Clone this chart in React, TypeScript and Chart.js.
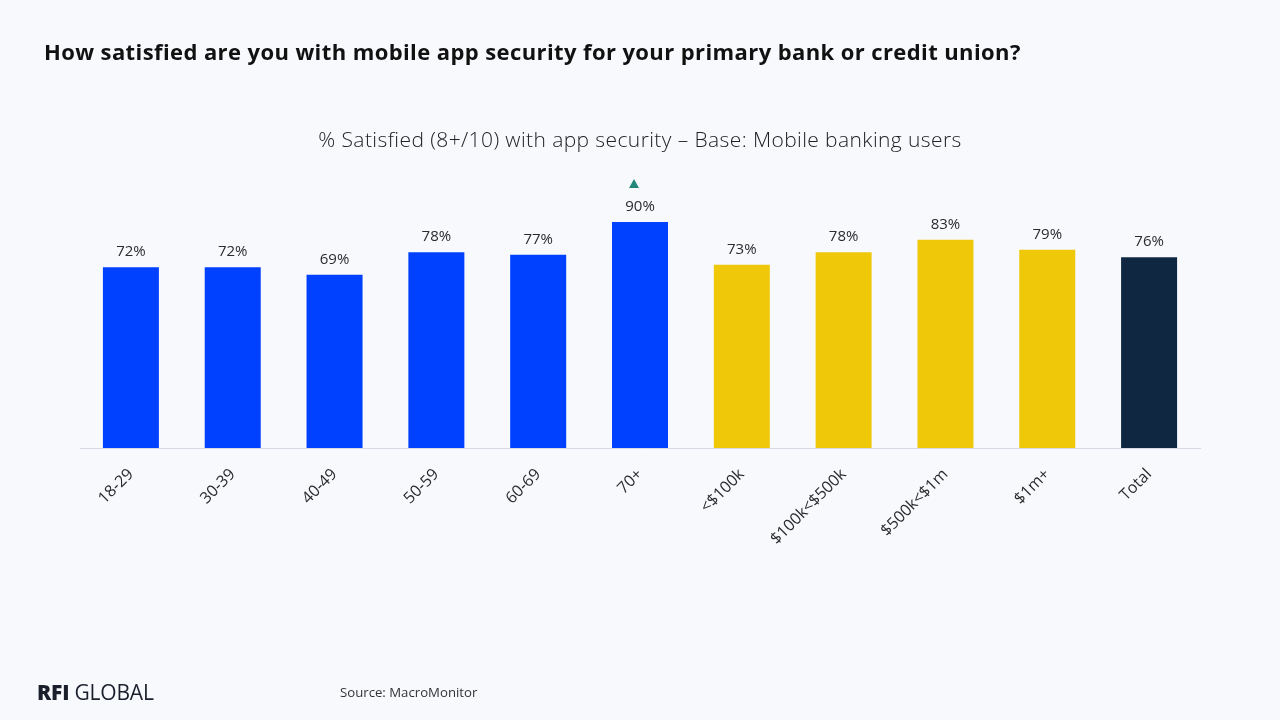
import React, { useEffect, useRef } from "react";
import { Chart, registerables } from "chart.js";

Chart.register(...registerables);

const categories = ["18-29", "30-39", "40-49", "50-59", "60-69", "70+", "<$100k", "$100k<$500k", "$500k<$1m", "$1m+", "Total"];
const values = [72, 72, 69, 78, 77, 90, 73, 78, 83, 79, 76];
const barColors = ["#0040FF", "#0040FF", "#0040FF", "#0040FF", "#0040FF", "#0040FF", "#EFC80A", "#EFC80A", "#EFC80A", "#EFC80A", "#0F2740"];
const significantUp = [false, false, false, false, false, true, false, false, false, false, false];

const titleText = "How satisfied are you with mobile app security for your primary bank or credit union?";
const subtitleText = "% Satisfied (8+/10) with app security \u2013 Base: Mobile banking users";
const sourceText = "Source: MacroMonitor";

const FONT = "'Open Sans', Lato, sans-serif";

const labelPlugin = {
  id: "barLabels",
  afterDatasetsDraw(chart: any) {
    const ctx = chart.ctx;
    const meta = chart.getDatasetMeta(0);
    ctx.save();
    ctx.font = "15px " + FONT;
    ctx.fillStyle = "#2b2b2b";
    ctx.textAlign = "center";
    ctx.textBaseline = "alphabetic";
    meta.data.forEach((bar: any, i: number) => {
      ctx.fillText(values[i] + "%", bar.x, bar.y - 11);
      if (significantUp[i]) {
        const cx = bar.x - 6;
        const ty = bar.y - 43;
        ctx.fillStyle = "#23877A";
        ctx.beginPath();
        ctx.moveTo(cx, ty);
        ctx.lineTo(cx + 5, ty + 9);
        ctx.lineTo(cx - 5, ty + 9);
        ctx.closePath();
        ctx.fill();
        ctx.fillStyle = "#2b2b2b";
      }
    });
    ctx.restore();
  },
};

export default function App() {
  const canvasRef = useRef<HTMLCanvasElement>(null);

  useEffect(() => {
    document.body.style.margin = "0";
    document.body.style.background = "#F7F9FD";
    const chart = new Chart(canvasRef.current!, {
      type: "bar",
      data: {
        labels: categories,
        datasets: [
          {
            data: values,
            backgroundColor: barColors,
            borderWidth: 0,
            barPercentage: 0.55,
            categoryPercentage: 1,
          },
        ],
      },
      options: {
        animation: false,
        responsive: false,
        maintainAspectRatio: false,
        layout: { padding: { left: 80, right: 80, top: 197, bottom: 172 } },
        plugins: { legend: { display: false }, tooltip: { enabled: false }, title: { display: false } },
        scales: {
          x: {
            grid: { display: false },
            border: { color: "#D6DAE2", width: 1 },
            ticks: {
              color: "#2b2b2b",
              font: { family: FONT, size: 16 },
              maxRotation: 45,
              minRotation: 45,
              padding: 9,
            },
            afterFit: (scale: any) => {
              scale.height = 100;
            },
          },
          y: {
            display: false,
            min: 0,
            max: 100,
          },
        },
      },
      plugins: [labelPlugin],
    });
    return () => chart.destroy();
  }, []);

  return (
    <div style={{ position: "relative", width: 1280, height: 720, background: "#F7F9FD", overflow: "hidden", fontFamily: FONT }}>
      <canvas ref={canvasRef} width={1280} height={720} style={{ position: "absolute", left: 0, top: 0 }} />
      <div style={{ position: "absolute", left: 44, top: 36, fontSize: 22, fontWeight: 700, color: "#111", whiteSpace: "nowrap", letterSpacing: 0.4 }}>{titleText}</div>
      <div style={{ position: "absolute", left: 0, width: 1280, top: 125, textAlign: "center", fontSize: 21, fontWeight: 300, color: "#222", whiteSpace: "nowrap", letterSpacing: 0.4 }}>{subtitleText}</div>
      <div style={{ position: "absolute", left: 37, top: 678, fontSize: 21, color: "#1a1f2b", whiteSpace: "nowrap", letterSpacing: -0.2 }}>
        <span style={{ fontWeight: 800 }}>RFI</span>
        <span style={{ fontWeight: 400 }}> GLOBAL</span>
      </div>
      <div style={{ position: "absolute", left: 340, top: 683, fontSize: 13.2, color: "#333", whiteSpace: "nowrap" }}>{sourceText}</div>
    </div>
  );
}
